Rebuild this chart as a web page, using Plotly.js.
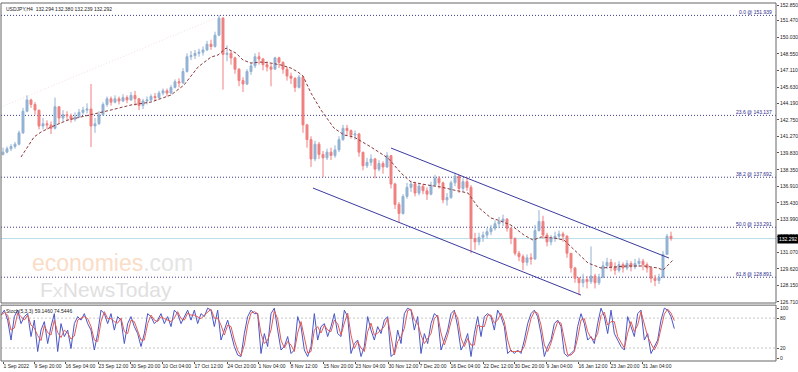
<!DOCTYPE html>
<html><head><meta charset="utf-8">
<script src="https://cdn.plot.ly/plotly-3.0.1.min.js"></script>
<style>html,body{margin:0;padding:0;background:#fff}#chart{width:798px;height:372px}</style>
</head><body><div id="chart"></div>
<script>
// ---- price data (H4 USDJPY, sampled every 4 bars) ----
const closes = [139.9,140.2,140.4,140.6,141.6,143.5,144.5,144.1,143.6,142.2,
142.4,142.3,142.0,143.9,142.9,143.2,143.1,142.8,143.0,143.4,
143.6,143.7,142.2,142.4,143.2,144.1,144.6,144.3,144.6,144.4,
144.7,144.5,144.9,144.6,144.0,144.4,144.5,144.8,144.7,145.1,
145.3,145.1,145.6,146.1,146.0,147.0,148.3,148.4,148.6,148.7,
148.9,149.4,149.2,150.2,151.7,148.5,148.6,148.2,147.2,146.2,
145.9,147.0,147.5,148.3,148.1,147.6,147.4,147.2,148.2,147.8,
147.2,146.6,146.4,145.6,146.5,142.3,141.0,139.3,140.6,139.7,
139.4,139.9,139.6,140.1,141.0,142.0,141.8,141.4,141.5,139.9,
138.7,139.0,139.3,138.4,138.9,138.6,139.6,137.1,135.3,134.5,
136.0,136.8,137.1,136.3,136.9,136.5,136.2,137.0,137.6,137.2,
135.7,135.9,137.2,137.8,136.7,137.3,136.8,132.3,132.0,132.4,
132.6,132.9,133.2,133.6,133.8,134.0,133.2,132.3,131.0,130.7,
130.2,130.6,130.5,133.0,133.8,132.6,132.0,132.3,132.5,132.7,
132.5,131.0,129.7,128.8,128.4,128.7,128.5,129.0,128.4,128.9,
129.9,130.2,129.8,129.5,130.0,129.7,130.1,129.8,130.1,130.3,
130.0,129.7,128.8,128.6,128.9,130.9,132.5,132.292];
const highs = [140.3,140.4,140.6,140.8,141.8,143.8,144.9,144.6,144.3,143.6,
142.9,142.7,142.6,144.7,143.9,143.6,143.5,143.3,143.4,143.7,
143.9,144.2,145.9,142.9,143.5,144.3,144.8,144.8,144.9,144.8,
145.0,144.9,145.2,145.3,144.6,144.6,144.8,145.0,145.1,145.3,
145.5,145.5,145.8,146.3,146.4,147.3,148.6,148.8,148.9,149.0,
149.2,149.7,149.8,150.5,151.94,151.8,149.3,148.8,148.3,147.3,
146.5,147.2,147.8,148.6,148.7,148.2,147.9,147.7,148.3,148.3,
147.9,147.4,146.9,146.5,146.7,146.6,142.4,141.3,140.9,140.8,
140.0,140.2,140.3,140.5,141.3,142.3,142.3,141.9,141.8,141.6,
139.9,139.4,139.7,139.4,139.2,139.1,139.9,139.6,137.2,135.5,
136.2,137.2,137.4,137.3,137.2,137.1,136.8,137.3,137.9,137.8,
137.3,136.3,137.4,138.1,137.9,137.6,137.7,137.0,132.8,132.8,
132.9,133.2,133.5,133.9,134.2,134.4,134.1,133.3,132.4,131.2,
130.9,130.9,131.0,133.5,134.8,134.3,132.8,132.6,132.9,133.0,
132.9,132.6,131.0,129.8,128.9,129.2,129.0,131.6,129.2,129.2,
130.3,130.6,130.5,130.2,130.3,130.2,130.4,130.3,130.5,130.6,
130.5,130.2,129.8,129.1,129.2,131.2,132.7,132.9];
const lows = [139.6,139.8,140.0,140.2,140.5,141.5,143.4,143.8,143.2,141.9,
141.9,141.9,141.5,141.9,142.4,142.6,142.7,142.5,142.6,142.9,
143.2,143.3,140.35,141.6,142.3,143.1,143.9,144.0,144.2,144.1,
144.3,144.2,144.4,144.0,143.6,143.7,144.1,144.4,144.4,144.6,
144.9,144.8,145.0,145.5,145.6,145.9,146.9,148.0,148.1,148.3,
148.4,148.8,148.9,149.1,150.1,145.4,147.9,147.6,146.8,145.7,
145.2,145.8,146.7,147.3,147.6,147.1,147.0,145.7,147.2,147.3,
146.8,146.2,145.9,145.2,145.5,141.6,140.3,138.6,139.1,139.3,
137.7,139.2,139.2,139.4,139.9,140.9,141.4,141.1,141.0,139.5,
138.3,138.5,138.7,137.6,138.2,138.0,138.5,136.7,134.9,133.7,
134.4,135.8,136.4,136.0,136.1,136.2,135.7,136.1,136.9,136.7,
135.4,135.2,135.8,136.9,136.3,136.4,136.5,131.0,131.3,131.7,
132.0,132.3,132.6,133.0,133.2,133.4,132.9,131.8,130.8,130.3,
129.5,129.9,130.0,130.4,132.9,132.3,131.6,131.7,132.0,132.2,
132.0,130.6,129.3,128.4,127.3,128.0,127.9,128.3,127.9,128.2,
128.8,129.6,129.4,129.1,129.3,129.3,129.5,129.4,129.6,129.8,
129.5,129.3,128.4,128.1,128.3,128.8,130.9,132.1];
const firstOpen = 139.7;

// ---- moving average (dashed) ----
const maX = [20,33,40,50,67,90,110,130,150,170,183,197,210,217,225,235,242,250,260,270,280,290,297,302,306,310,320,333,343,353,370,387,400,410,427,440,453,467,477,490,497,510,523,532,540,553,563,573,587,600,610,627,643,657,662,667,672];
const maV = [139.47,141.23,141.67,142.11,142.73,143.17,143.61,144.05,144.31,144.93,145.81,147.39,148.27,148.45,149.06,148.62,148.01,147.74,147.83,147.74,147.57,147.30,146.95,146.60,145.90,145.10,143.61,142.02,141.41,141.23,140.35,139.38,138.06,137.27,137.00,136.83,136.56,136.30,135.07,134.10,133.92,133.48,132.60,132.16,132.43,132.34,132.16,131.28,130.14,129.70,129.79,129.88,129.88,129.70,129.52,129.96,130.40];

// ---- stochastic (5,3,3) ----
const stochK = [86,96,76,36,83,96,69,83,89,43,76,13,56,73,29,63,89,13,69,43,
56,19,69,83,76,89,69,56,16,49,96,89,69,89,56,83,76,29,69,83,
63,49,23,49,89,83,69,76,89,69,83,63,96,89,69,83,96,76,96,69,
89,83,100,96,63,96,36,56,76,49,23,6,3,49,83,96,89,89,9,49,
23,89,100,56,16,23,43,9,16,83,63,16,3,23,89,36,63,69,43,63,
89,49,43,96,83,9,29,36,3,23,83,56,36,63,49,76,83,3,9,56,
29,89,100,96,56,83,9,49,29,69,89,83,16,36,56,89,96,63,16,29,
49,3,49,83,43,83,89,83,56,96,83,63,9,16,9,16,9,36,69,89,
96,83,49,3,23,36,69,76,63,9,3,9,16,63,89,69,36,43,29,69,
100,83,49,96,49,36,23,16,83,63,43,89,96,36,49,9,23,36,76,100,
96,83,59];
const stochD = [86,91,86,56,60,90,83,76,86,66,60,45,35,65,51,46,76,51,41,56,
50,38,44,76,80,83,79,63,36,33,73,93,79,79,73,70,80,53,49,76,
73,56,36,36,69,86,76,73,83,79,76,73,80,93,79,76,90,86,86,83,
79,86,92,98,80,80,66,46,66,63,36,15,5,26,66,90,93,89,49,29,
36,56,95,78,36,20,33,26,13,50,73,40,10,13,56,63,50,66,56,53,
76,69,46,70,90,46,19,33,20,13,53,70,46,50,56,63,80,43,6,33,
43,59,95,98,76,70,46,29,39,49,79,86,50,26,46,73,93,80,40,23,
39,26,26,66,63,63,86,86,70,76,90,73,36,13,13,13,13,23,53,79,
93,90,66,26,13,30,53,73,70,36,6,6,13,40,76,79,53,40,36,49,
85,92,66,73,73,43,30,20,50,73,53,66,93,66,43,29,16,30,56,88,
98,90,75];

// ---- levels, ticks, labels ----
const fibLevels = [151.939,143.137,137.692,133.291,128.891];
const fibLabels = ['0.0 @ 151.939','23.6 @ 143.137','38.2 @ 137.692','50.0 @ 133.291','61.8 @ 128.891'];
const lastPrice = 132.292;
const priceTicks = [152.850,151.470,150.030,148.550,147.110,145.630,144.190,142.750,141.270,139.830,138.350,136.910,135.430,133.990,132.510,131.070,129.620,128.150,126.710];
const timeTickPos = [2,33,64,97,129,161,193,226,257,289,322,354,387,418,449,482,513,545,577,609,641];
const timeTickText = ['1 Sep 2022','9 Sep 20:00','16 Sep 04:00','23 Sep 12:00','30 Sep 20:00','10 Oct 04:00','17 Oct 12:00','24 Oct 20:00','1 Nov 04:00','8 Nov 12:00','15 Nov 20:00','23 Nov 04:00','30 Nov 12:00','7 Dec 20:00','16 Dec 04:00','22 Dec 12:00','30 Dec 20:00','9 Jan 04:00','16 Jan 12:00','23 Jan 20:00','31 Jan 04:00'];
const chanUpper = {x:[390,668], y:[140.26,130.58]};
const chanLower = {x:[312,580], y:[136.74,127.32]};
const faintLine = {x:[0,215], y:[143.87,151.71]};
const stochLevels = [80,20];

// ---- build ----
const barX = closes.map((_, i) => 2 + 4*i);
const opens = closes.map((c, i) => i === 0 ? firstOpen : closes[i-1]);
const stochX = stochK.map((_, i) => i*10/3);

const FONT = 'Liberation Sans, Arial, sans-serif';
const TF = {family:FONT, size:5, color:'#222'};
const traces = [
  {type:'candlestick', x:barX, open:opens, high:highs, low:lows, close:closes,
   xaxis:'x', yaxis:'y', whiskerwidth:0,
   increasing:{line:{color:'#93b2d3', width:1}, fillcolor:'#93b2d3'},
   decreasing:{line:{color:'#ef8080', width:1}, fillcolor:'#ef8080'},
   hoverinfo:'skip', showlegend:false},
  {type:'scatter', mode:'lines', x:maX, y:maV, xaxis:'x', yaxis:'y',
   line:{color:'#8b3a3a', width:1, dash:'3px,2px'}, hoverinfo:'skip', showlegend:false},
  {type:'scatter', mode:'lines', x:stochX, y:stochK, xaxis:'x', yaxis:'y2',
   line:{color:'#4a56c8', width:1}, hoverinfo:'skip', showlegend:false},
  {type:'scatter', mode:'lines', x:stochX, y:stochD, xaxis:'x', yaxis:'y2',
   line:{color:'#e25a55', width:1}, hoverinfo:'skip', showlegend:false}
];

const MAIN_BOTTOM = 0.162, SUB_TOP = 0.156;
const shapes = [];
fibLevels.forEach(v => shapes.push({type:'line', xref:'x', yref:'y', x0:0, x1:775, y0:v, y1:v, layer:'below',
  line:{color:'#3a3a96', width:1, dash:'1px,2px'}}));
shapes.push({type:'line', xref:'x', yref:'y', x0:0, x1:775, y0:lastPrice, y1:lastPrice, layer:'below',
  line:{color:'#b8dde9', width:1}});
[chanUpper, chanLower].forEach(c => shapes.push({type:'line', xref:'x', yref:'y', x0:c.x[0], x1:c.x[1], y0:c.y[0], y1:c.y[1],
  line:{color:'#3a3a9e', width:1}}));
shapes.push({type:'line', xref:'x', yref:'y', x0:faintLine.x[0], x1:faintLine.x[1], y0:faintLine.y[0], y1:faintLine.y[1], layer:'below',
  line:{color:'#f6e0e0', width:1, dash:'1px,2px'}});
stochLevels.forEach(v => shapes.push({type:'line', xref:'x', yref:'y2', x0:0, x1:775, y0:v, y1:v, layer:'below',
  line:{color:'#c8c8c8', width:1, dash:'2px,2px'}}));
shapes.push({type:'rect', xref:'paper', yref:'paper', x0:0, x1:1, y0:MAIN_BOTTOM, y1:1, line:{color:'#666', width:1}});
shapes.push({type:'rect', xref:'paper', yref:'paper', x0:0, x1:1, y0:0, y1:SUB_TOP, line:{color:'#666', width:1}});

const annotations = [
  {xref:'paper', yref:'paper', x:0.004, y:0.998, xanchor:'left', yanchor:'top', showarrow:false,
   text:'USDJPY,H4  132.294 132.380 132.239 132.292', font:{family:FONT, size:5, color:'#222'}},
  {xref:'paper', yref:'paper', x:0.004, y:SUB_TOP-0.003, xanchor:'left', yanchor:'top', showarrow:false,
   text:'Stoch(5,3,3) 59.1460 74.5446', font:{family:FONT, size:5, color:'#222'}},
  {xref:'paper', yref:'y', x:1, y:lastPrice, xanchor:'left', yanchor:'middle', showarrow:false, xshift:1,
   text:'132.292', bgcolor:'#000', borderpad:1, font:{family:FONT, size:5, color:'#fff'}},
  {xref:'x', yref:'y', x:111, y:130.14, xanchor:'center', yanchor:'middle', showarrow:false,
   text:"<span style='color:#fbdcc6'>economies</span><span style='color:#e4e4e4'>.com</span>", font:{family:FONT, size:23}},
  {xref:'x', yref:'y', x:105, y:127.85, xanchor:'center', yanchor:'middle', showarrow:false,
   text:"F<span style='font-size:15px'>X</span>NewsToday", font:{family:FONT, size:21, color:'#e0e0e0'}}
];
fibLevels.forEach((v, i) => annotations.push({xref:'x', yref:'y', x:773, y:v, xanchor:'right', yanchor:'bottom', yshift:-2,
  showarrow:false, text:fibLabels[i], font:{family:FONT, size:5, color:'#2b2b8c'}}));

const layout = {
  width:798, height:372, margin:{l:1, r:22, t:3, b:11},
  paper_bgcolor:'#fff', plot_bgcolor:'#fff', showlegend:false, hovermode:false,
  font:{family:FONT, size:5, color:'#222'},
  xaxis:{range:[0,775], domain:[0,1], anchor:'y2', tickvals:timeTickPos, ticktext:timeTickText,
    ticks:'outside', ticklen:2, tickcolor:'#555', tickangle:0, ticklabelposition:'outside right',
    tickfont:TF, showgrid:false, zeroline:false, showline:false,
    rangeslider:{visible:false}, fixedrange:true},
  yaxis:{domain:[MAIN_BOTTOM,1], range:[126.62,153.03], side:'right', anchor:'x',
    tickvals:priceTicks, ticktext:priceTicks.map(v => v.toFixed(3)),
    ticks:'outside', ticklen:2, tickcolor:'#555', tickfont:TF,
    showgrid:false, zeroline:false, showline:false, fixedrange:true},
  yaxis2:{domain:[0,SUB_TOP], range:[-6,106], side:'right', anchor:'x',
    tickvals:[0,20,80,100], ticktext:['0','20','80','100'],
    ticks:'outside', ticklen:2, tickcolor:'#555', tickfont:TF,
    showgrid:false, zeroline:false, showline:false, fixedrange:true},
  shapes:shapes, annotations:annotations
};
Plotly.newPlot('chart', traces, layout, {staticPlot:true, displayModeBar:false});
</script></body></html>
